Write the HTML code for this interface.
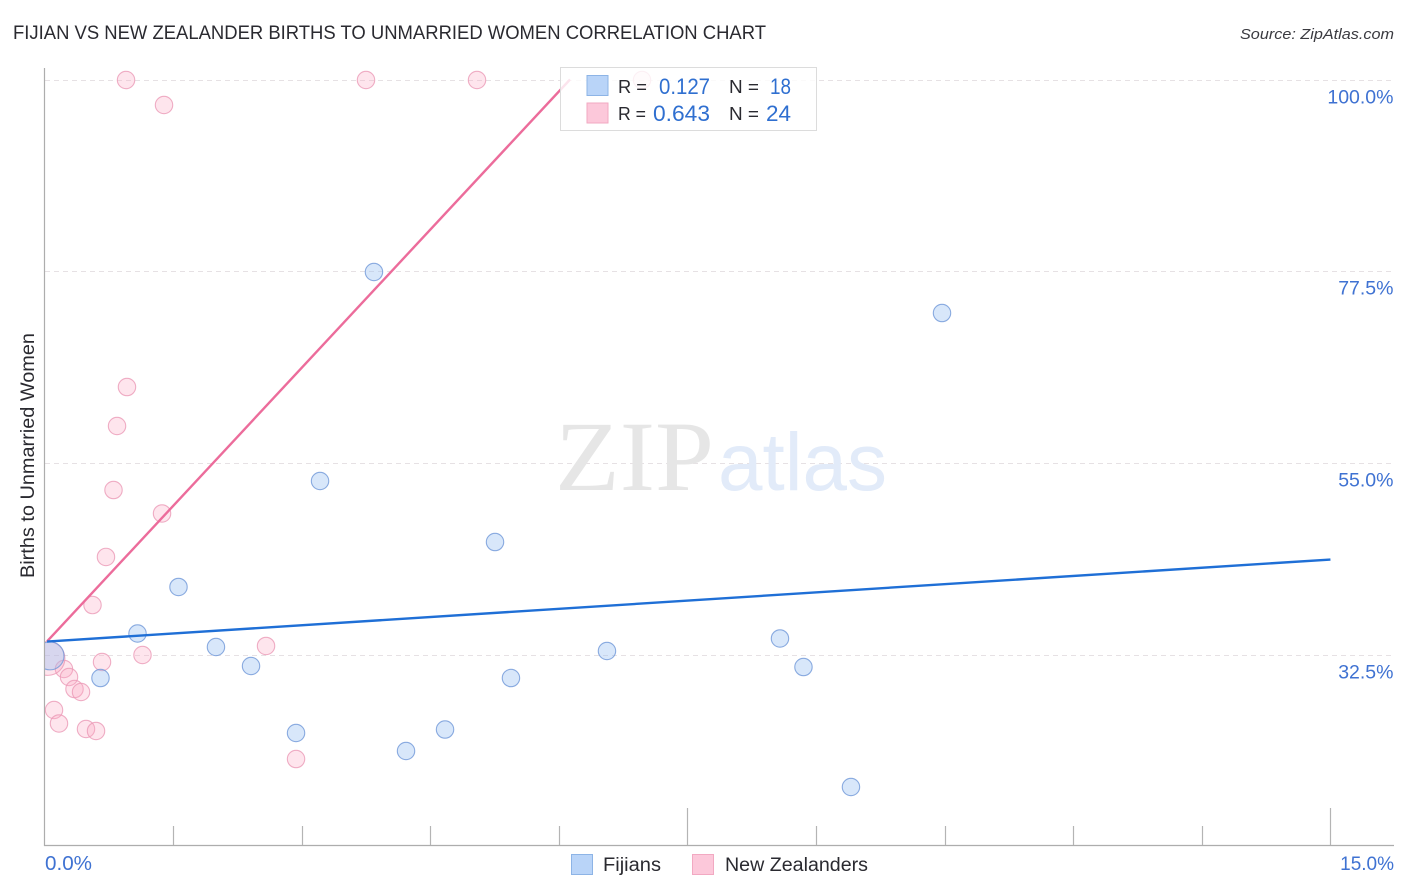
<!DOCTYPE html>
<html lang="en">
<head>
<meta charset="utf-8">
<title>Fijian vs New Zealander Births to Unmarried Women Correlation Chart</title>
<style>
html,body{margin:0;padding:0;background:#fff;width:1406px;height:892px;overflow:hidden}
svg{display:block;font-family:"Liberation Sans",sans-serif}
</style>
</head>
<body>
<svg id="chart" xmlns="http://www.w3.org/2000/svg" width="1406" height="892" viewBox="0 0 1406 892">
  <defs>
    <clipPath id="plot-clip"><rect x="45" y="60" width="1349" height="785"/></clipPath>
  </defs>
  <text x="13" y="39" font-size="19" fill="#2a2a30" textLength="753" lengthAdjust="spacingAndGlyphs">FIJIAN VS NEW ZEALANDER BIRTHS TO UNMARRIED WOMEN CORRELATION CHART</text>
  <text x="1394" y="39" font-size="15" font-style="italic" fill="#3a3a40" text-anchor="end" textLength="154" lengthAdjust="spacingAndGlyphs">Source: ZipAtlas.com</text>
  <text transform="translate(34 578) rotate(-90)" font-size="19" fill="#2a2a30" textLength="245" lengthAdjust="spacingAndGlyphs">Births to Unmarried Women</text>
  <g id="grid"></g>
  <g>
    <text x="555" y="490" font-family="'Liberation Serif',serif" font-size="100" fill="#e6e6e6" textLength="159" lengthAdjust="spacingAndGlyphs">ZIP</text>
    <text x="718" y="490" font-size="82" fill="#e2ebf9" textLength="169" lengthAdjust="spacingAndGlyphs">atlas</text>
  </g>
  <g id="axes"></g>
  <g id="points" clip-path="url(#plot-clip)"></g>
  <g id="trends"></g>
  <g id="tick-labels"></g>

  <g>
    <rect x="560.5" y="67.5" width="256" height="63" fill="#fff" fill-opacity="0.82" stroke="#dcdcdc" stroke-width="1"/>
    <rect x="587" y="75.5" width="21" height="20" fill="#b9d4f8" stroke="#8db4e6" stroke-width="1"/>
    <rect x="587" y="103" width="21" height="20" fill="#fcc8da" stroke="#f2a9c2" stroke-width="1"/>
    <text x="618" y="93" font-size="18" fill="#2a2a30" textLength="29" lengthAdjust="spacingAndGlyphs">R =</text>
    <text x="659" y="94" font-size="22" fill="#2f6fd0" textLength="51" lengthAdjust="spacingAndGlyphs">0.127</text>
    <text x="729" y="93" font-size="18" fill="#2a2a30" textLength="30" lengthAdjust="spacingAndGlyphs">N =</text>
    <text x="770" y="94" font-size="22" fill="#2f6fd0" textLength="21" lengthAdjust="spacingAndGlyphs">18</text>
    <text x="618" y="120" font-size="18" fill="#2a2a30" textLength="28" lengthAdjust="spacingAndGlyphs">R =</text>
    <text x="653" y="121" font-size="22" fill="#2f6fd0" textLength="57" lengthAdjust="spacingAndGlyphs">0.643</text>
    <text x="729" y="120" font-size="18" fill="#2a2a30" textLength="30" lengthAdjust="spacingAndGlyphs">N =</text>
    <text x="766" y="121" font-size="22" fill="#2f6fd0" textLength="25" lengthAdjust="spacingAndGlyphs">24</text>
  </g>

  <g>
    <rect x="571.5" y="854.5" width="21" height="20" fill="#b9d4f8" stroke="#8db4e6" stroke-width="1"/>
    <text x="603" y="871" font-size="19" fill="#2a2a30" textLength="58" lengthAdjust="spacingAndGlyphs">Fijians</text>
    <rect x="692.5" y="854.5" width="21" height="20" fill="#fcc8da" stroke="#f2a9c2" stroke-width="1"/>
    <text x="725" y="871" font-size="19" fill="#2a2a30" textLength="143" lengthAdjust="spacingAndGlyphs">New Zealanders</text>
  </g>
</svg>
<script>
const yTicks = [100, 77.5, 55, 32.5];
const yTickLabels = ['100.0%', '77.5%', '55.0%', '32.5%'];
const xTicks = [1.5, 3, 4.5, 6, 7.5, 9, 10.5, 12, 13.5, 15];
const xMajorTicks = [7.5, 15];
const xEndLabels = ['0.0%', '15.0%'];

const fijianX = [1.085, 1.563, 2.0, 2.409, 2.934, 3.214, 3.843, 4.217, 4.672, 5.255, 5.441, 6.561, 8.579, 8.853, 9.407, 10.469, 0.653, 0.064];
const fijianY = [35.02, 40.48, 33.44, 31.21, 23.35, 52.91, 77.42, 21.24, 23.76, 45.75, 29.8, 32.97, 34.44, 31.09, 17.02, 72.61, 29.8, 32.4];
const fijianWeight = [1, 1, 1, 1, 1, 1, 1, 1, 1, 1, 1, 1, 1, 1, 1, 1, 1, 2.6];

const zealanderX = [0.951, 1.394, 3.75, 5.045, 6.97, 0.962, 0.846, 0.805, 1.371, 0.717, 0.56, 1.143, 0.671, 2.584, 0.227, 0.286, 0.35, 0.426, 0.111, 0.169, 0.484, 0.601, 2.934, 0.04];
const zealanderY = [99.94, 97.01, 99.94, 99.94, 99.94, 63.93, 59.36, 51.85, 49.1, 44.0, 38.36, 32.5, 31.68, 33.56, 30.86, 29.92, 28.51, 28.16, 26.05, 24.47, 23.82, 23.59, 20.3, 32.1];
const zealanderWeight = [1, 1, 1, 1, 1, 1, 1, 1, 1, 1, 1, 1, 1, 1, 1, 1, 1, 1, 1, 1, 1, 1, 1, 3.8];

const fijianTrendX = [0.03, 15];
const fijianTrendY = [34.08, 43.7];
const zealanderTrendX = [0.03, 6.13];
const zealanderTrendY = [34.1, 100];

const xScale = function (v) { return 44.5 + v * 85.73; };
const yScale = function (v) { return 79.5 + (100 - v) * 8.526; };
const NS = 'http://www.w3.org/2000/svg';
const BASE_RADIUS = 8.7;

function make(tag, parent, attrs) {
  const el = document.createElementNS(NS, tag);
  Object.keys(attrs).forEach(function (k) { el.setAttribute(k, attrs[k]); });
  parent.appendChild(el);
  return el;
}

const gridG = document.getElementById('grid');
const axesG = document.getElementById('axes');
const labelsG = document.getElementById('tick-labels');
const pointsG = document.getElementById('points');
const trendsG = document.getElementById('trends');

yTicks.forEach(function (t, i) {
  const y = Math.round(yScale(t)) + 0.5;
  const line = make('line', gridG, { x1: 45, x2: 1394, y1: y, y2: y, stroke: '#e6e1e4', 'stroke-width': 1, 'stroke-dasharray': '5 4' });
  
  
  const label = make('text', labelsG, { x: 1393.5, y: y + 23, 'font-size': 19.5, fill: '#3f72d2', 'text-anchor': 'end' });
  label.textContent = yTickLabels[i];
  
  
});

const yAxis = make('line', axesG, { x1: 44.5, x2: 44.5, y1: 68, y2: 846, stroke: '#adadad', 'stroke-width': 1.2 });


const xAxis = make('line', axesG, { x1: 44, x2: 1394, y1: 845.5, y2: 845.5, stroke: '#adadad', 'stroke-width': 1.2 });



xTicks.forEach(function (t) {
  const x = Math.round(xScale(t)) + 0.5;
  const top = xMajorTicks.indexOf(t) >= 0 ? 808 : 826;
  const tick = make('line', axesG, { x1: x, x2: x, y1: top, y2: 845, stroke: '#b4b4b4', 'stroke-width': 1.2 });
  
  
});

const xLabelLeft = make('text', labelsG, { x: 45, y: 870, 'font-size': 20, fill: '#3f72d2', textLength: 47, lengthAdjust: 'spacingAndGlyphs' });
xLabelLeft.textContent = xEndLabels[0];


const xLabelRight = make('text', labelsG, { x: 1394, y: 870, 'font-size': 19, fill: '#3f72d2', 'text-anchor': 'end' });
xLabelRight.textContent = xEndLabels[1];



zealanderX.forEach(function (v, i) {
  const c = make('circle', pointsG, { cx: xScale(v), cy: yScale(zealanderY[i]), r: BASE_RADIUS * Math.sqrt(zealanderWeight[i]), fill: '#fba8c4', 'fill-opacity': 0.3, stroke: '#eb9ab6', 'stroke-opacity': 0.8, 'stroke-width': 1.1 });
  
  
});
fijianX.forEach(function (v, i) {
  const c = make('circle', pointsG, { cx: xScale(v), cy: yScale(fijianY[i]), r: BASE_RADIUS * Math.sqrt(fijianWeight[i]), fill: '#94bdf2', 'fill-opacity': 0.36, stroke: '#6f97d8', 'stroke-opacity': 0.8, 'stroke-width': 1.1 });
  
  
});

const pinkLine = make('line', trendsG, { x1: xScale(zealanderTrendX[0]), y1: yScale(zealanderTrendY[0]), x2: xScale(zealanderTrendX[1]), y2: yScale(zealanderTrendY[1]), stroke: '#ec6c9b', 'stroke-width': 2.4 });


const blueLine = make('line', trendsG, { x1: xScale(fijianTrendX[0]), y1: yScale(fijianTrendY[0]), x2: xScale(fijianTrendX[1]), y2: yScale(fijianTrendY[1]), stroke: '#1f6fd6', 'stroke-width': 2.4 });


</script>
</body>
</html>
